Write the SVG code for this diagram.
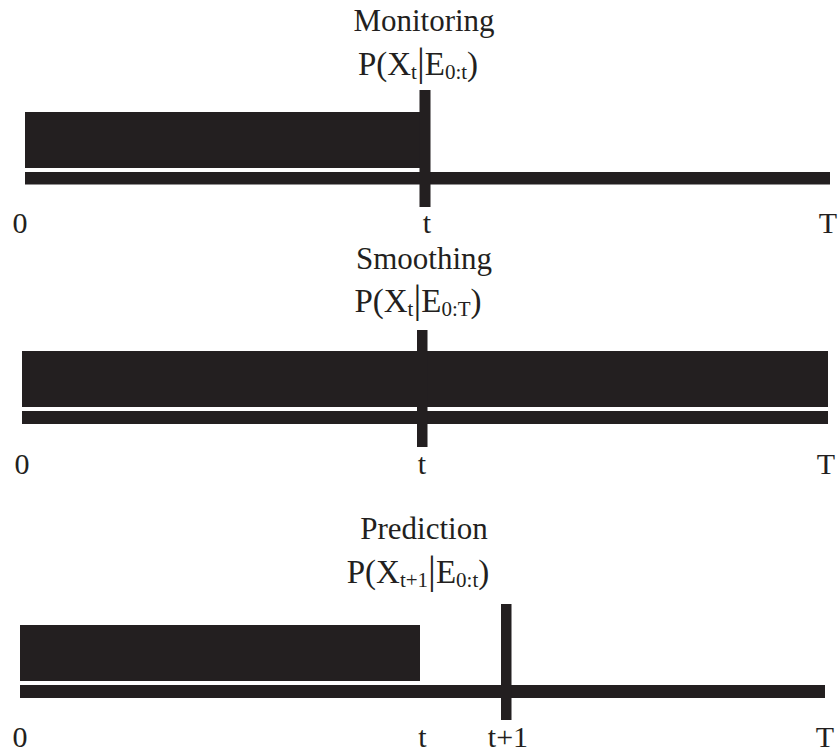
<svg xmlns="http://www.w3.org/2000/svg" width="838" height="752" viewBox="0 0 838 752">
  <style>
    .ink { fill: #231f20; }
    text { font-family: "Liberation Serif", "Times New Roman", serif; fill: #231f20; }
    .title { font-size: 31px; text-anchor: middle; }
    .formula { font-size: 33px; text-anchor: middle; }
    .sub { font-size: 21px; }
    .bar { font-size: 39px; }
    .tick { font-size: 30px; text-anchor: middle; }
  </style>
  <rect width="838" height="752" fill="#ffffff"/>

  <!-- Filtering: evidence up to t, estimate at t -->
  <g id="monitoring">
    <text class="title" x="424" y="31">Monitoring</text>
    <text class="formula" x="418" y="75">P(X<tspan class="sub" dy="4">t</tspan><tspan class="bar" dy="-4">|</tspan>E<tspan class="sub" dy="4">0:t</tspan><tspan dy="-4">)</tspan></text>
    <rect class="ink" x="25" y="112" width="395" height="56"/>
    <rect class="ink" x="25" y="172" width="805" height="12.5"/>
    <rect class="ink" x="419.5" y="90" width="11" height="117"/>
    <text class="tick" x="20" y="233">0</text>
    <text class="tick" x="427" y="233">t</text>
    <text class="tick" x="828" y="233">T</text>
  </g>

  <!-- Smoothing: evidence over the whole range -->
  <g id="smoothing">
    <text class="title" x="424" y="269">Smoothing</text>
    <text class="formula" x="418" y="312">P(X<tspan class="sub" dy="4">t</tspan><tspan class="bar" dy="-4">|</tspan>E<tspan class="sub" dy="4">0:T</tspan><tspan dy="-4">)</tspan></text>
    <rect class="ink" x="22" y="351" width="806" height="56"/>
    <rect class="ink" x="22" y="411" width="806" height="13"/>
    <rect class="ink" x="417" y="330" width="10.5" height="117"/>
    <text class="tick" x="22" y="474">0</text>
    <text class="tick" x="422" y="474">t</text>
    <text class="tick" x="826" y="474">T</text>
  </g>

  <!-- Prediction: evidence up to t, estimate at t+1 -->
  <g id="prediction">
    <text class="title" x="424" y="539">Prediction</text>
    <text class="formula" x="418" y="583">P(X<tspan class="sub" dy="4">t+1</tspan><tspan class="bar" dy="-4">|</tspan>E<tspan class="sub" dy="4">0:t</tspan><tspan dy="-4">)</tspan></text>
    <rect class="ink" x="20" y="625" width="400" height="56"/>
    <rect class="ink" x="20" y="685" width="805" height="13"/>
    <rect class="ink" x="501" y="604" width="10.5" height="116"/>
    <text class="tick" x="20" y="747">0</text>
    <text class="tick" x="422.5" y="747">t</text>
    <text class="tick" x="508" y="747">t+1</text>
    <text class="tick" x="825" y="747">T</text>
  </g>
</svg>
